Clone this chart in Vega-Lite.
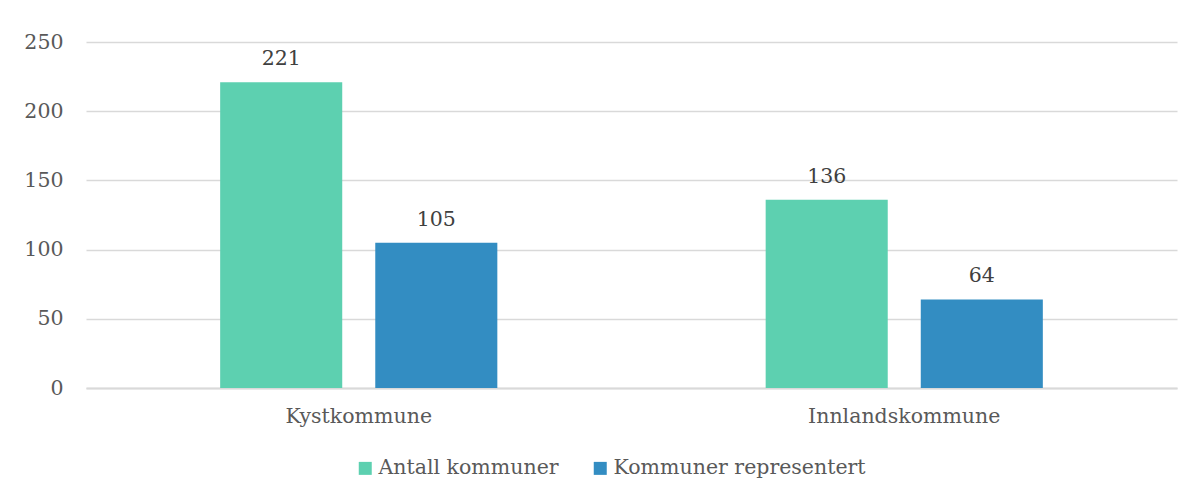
{
  "$schema": "https://vega.github.io/schema/vega-lite/v6.json",
  "width": 1091,
  "height": 346,
  "autosize": {"type": "none"},
  "padding": {"left": 86, "top": 42, "right": 23, "bottom": 113},
  "background": "white",
  "config": {
    "view": {"stroke": null},
    "font": "DejaVu Serif",
    "text": {"font": "DejaVu Serif"}
  },
  "data": {
    "values": [
      {"kommune": "Kystkommune", "serie": "Antall kommuner", "verdi": 221},
      {"kommune": "Kystkommune", "serie": "Kommuner representert", "verdi": 105},
      {"kommune": "Innlandskommune", "serie": "Antall kommuner", "verdi": 136},
      {"kommune": "Innlandskommune", "serie": "Kommuner representert", "verdi": 64}
    ]
  },
  "encoding": {
    "x": {
      "field": "kommune",
      "type": "nominal",
      "sort": ["Kystkommune", "Innlandskommune"],
      "scale": {"paddingInner": 0, "paddingOuter": 0},
      "axis": {
        "title": null,
        "labelAngle": 0,
        "labelFont": "DejaVu Serif",
        "labelFontSize": 20.5,
        "labelColor": "#595959",
        "labelPadding": 18,
        "labelLimit": 400,
        "ticks": false,
        "grid": false,
        "domainColor": "#d9d9d9",
        "domainWidth": 2
      }
    },
    "xOffset": {
      "field": "serie",
      "type": "nominal",
      "sort": ["Antall kommuner", "Kommuner representert"],
      "scale": {"paddingInner": 0.213, "paddingOuter": 0.865}
    },
    "y": {
      "field": "verdi",
      "type": "quantitative",
      "scale": {"domain": [0, 250], "nice": false},
      "axis": {
        "title": null,
        "values": [0, 50, 100, 150, 200, 250],
        "labelFont": "DejaVu Serif",
        "labelFontSize": 20.5,
        "labelColor": "#595959",
        "labelPadding": 23,
        "ticks": false,
        "domain": false,
        "gridColor": "#d9d9d9",
        "gridWidth": 1.5
      }
    }
  },
  "layer": [
    {
      "mark": {"type": "bar"},
      "encoding": {
        "color": {
          "field": "serie",
          "type": "nominal",
          "sort": ["Antall kommuner", "Kommuner representert"],
          "scale": {"domain": ["Antall kommuner", "Kommuner representert"], "range": ["#5dd0b0", "#338dc2"]},
          "legend": {
            "orient": "none",
            "legendX": 269,
            "legendY": 416,
            "direction": "horizontal",
            "title": null,
            "symbolType": "square",
            "symbolSize": 169,
            "symbolStrokeWidth": 0,
            "labelFont": "DejaVu Serif",
            "labelFontSize": 20.5,
            "labelColor": "#595959",
            "labelOffset": 3,
            "labelLimit": 400,
            "columnPadding": 31
          }
        }
      }
    },
    {
      "mark": {"type": "text", "baseline": "alphabetic", "dy": -17, "fontSize": 20.5, "color": "#404040", "font": "DejaVu Serif"},
      "encoding": {
        "text": {"field": "verdi", "type": "quantitative"}
      }
    }
  ]
}
